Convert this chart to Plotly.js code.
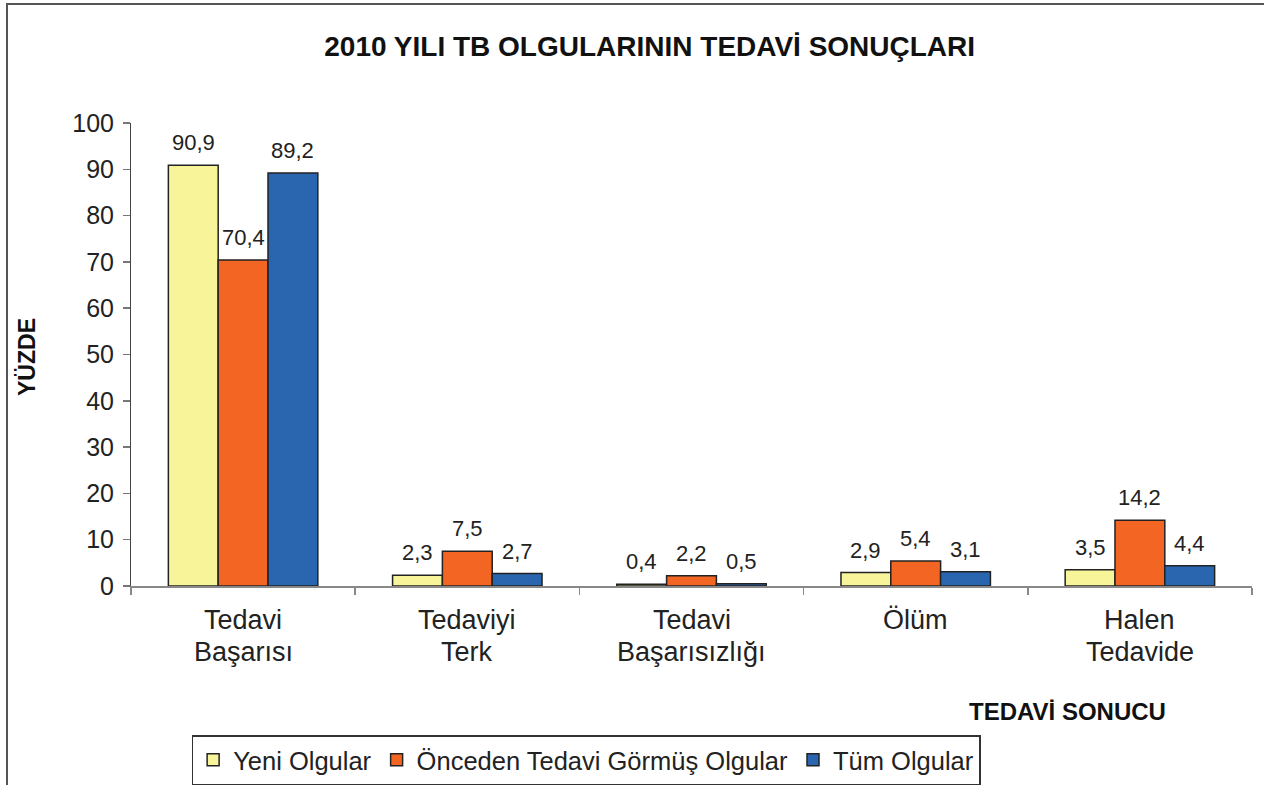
<!DOCTYPE html>
<html><head><meta charset="utf-8">
<script src="https://cdn.plot.ly/plotly-3.0.1.min.js"></script>
<style>
html,body{margin:0;padding:0;background:#fff;overflow:hidden;}
#chart{position:absolute;left:0;top:0;width:1264px;height:785px;}
#frame{position:absolute;left:6px;top:3px;width:1400px;height:900px;border-left:2px solid #555;border-top:2px solid #555;pointer-events:none;}
</style></head>
<body>
<div id="chart"></div>
<div id="frame"></div>
<script>
const categories = ["Tedavi Başarısı","Tedaviyi Terk","Tedavi Başarısızlığı","Ölüm","Halen Tedavide"];
const labelLine1 = ["Tedavi","Tedaviyi","Tedavi","Ölüm","Halen"];
const labelLine2 = ["Başarısı","Terk","Başarısızlığı","","Tedavide"];
const seriesNames = ["Yeni Olgular","Önceden Tedavi Görmüş Olgular","Tüm Olgular"];
const yeniOlgular = [90.9, 2.3, 0.4, 2.9, 3.5];
const oncedenOlgular = [70.4, 7.5, 2.2, 5.4, 14.2];
const tumOlgular = [89.2, 2.7, 0.5, 3.1, 4.4];
const yTicks = [0,10,20,30,40,50,60,70,80,90,100];

const seriesValues = [yeniOlgular, oncedenOlgular, tumOlgular];
const colors = ["#F7F49A","#F26522","#2A66B0"];
const fmt = v => v.toFixed(1).replace('.', ',');
const txtColor = "#222";
const fontFam = "Liberation Sans, Arial, sans-serif";

const traces = seriesValues.map((vals, i) => ({
  type: 'bar',
  name: seriesNames[i],
  x: categories,
  y: vals,
  marker: {color: colors[i], line: {color: '#222', width: 1.5}},
  hoverinfo: 'x+y'
}));

const bargap = 1/3;
const barW = (1 - bargap) / seriesValues.length;
const annotations = [];
seriesValues.forEach((vals, s) => {
  vals.forEach((v, c) => {
    annotations.push({
      x: c + (s - 1) * barW, y: v, xref: 'x', yref: 'y',
      text: fmt(v), showarrow: false, yanchor: 'bottom', yshift: 8,
      font: {size: 22, color: txtColor, family: fontFam}
    });
  });
});
labelLine1.forEach((t, c) => {
  annotations.push({x: c, y: -0.074, xref: 'x', yref: 'paper', text: t, showarrow: false,
    yanchor: 'middle', font: {size: 27, color: txtColor, family: fontFam}});
  if (labelLine2[c]) annotations.push({x: c, y: -0.1425, xref: 'x', yref: 'paper', text: labelLine2[c], showarrow: false,
    yanchor: 'middle', font: {size: 27, color: txtColor, family: fontFam}});
});
annotations.push({x: 0.925, y: -0.272, xref: 'paper', yref: 'paper', text: 'TEDAVİ SONUCU', showarrow: false,
  xanchor: 'right', yanchor: 'middle', font: {size: 24, color: '#111', family: fontFam, weight: 'bold'}});
annotations.push({x: -0.0928, y: 0.4946, xref: 'paper', yref: 'paper', text: 'YÜZDE', showarrow: false, textangle: -90,
  xanchor: 'center', yanchor: 'middle', font: {size: 23, color: '#111', family: fontFam, weight: 'bold'}});

const layout = {
  width: 1264, height: 785,
  margin: {l: 131, r: 12, t: 123, b: 199, autoexpand: false},
  paper_bgcolor: '#fff', plot_bgcolor: '#fff',
  title: {text: '2010 YILI TB OLGULARININ TEDAVİ SONUÇLARI', x: 0.514, xref: 'container', y: 0.941, yref: 'container',
    xanchor: 'center', yanchor: 'middle', automargin: false,
    font: {size: 28, color: '#111', family: fontFam, weight: 'bold'}},
  barmode: 'group', bargap: bargap, bargroupgap: 0,
  showlegend: true,
  legend: {orientation: 'h', x: 0.406, xanchor: 'center', y: -0.376, yanchor: 'middle',
    bgcolor: '#fff', bordercolor: '#333', borderwidth: 1.5,
    font: {size: 25.5, color: txtColor, family: fontFam}, traceorder: 'normal'},
  xaxis: {type: 'category', showticklabels: false, showline: true, linecolor: '#888', linewidth: 2,
    ticks: 'outside', tickson: 'boundaries', ticklen: 7, tickcolor: '#888', tickwidth: 1.5,
    showgrid: false, zeroline: false, fixedrange: true, automargin: false},
  yaxis: {range: [0, 100], tickvals: yTicks, ticktext: yTicks.map(String), showline: true, linecolor: '#444', linewidth: 1,
    ticks: 'outside', ticklen: 7, tickcolor: '#777', tickwidth: 1.5, ticklabelstandoff: 4,
    showgrid: false, zeroline: false, tickfont: {size: 25, color: txtColor, family: fontFam}, fixedrange: true, automargin: false},
  annotations: annotations
};

Plotly.newPlot('chart', traces, layout, {displayModeBar: false, staticPlot: true});
</script>
</body></html>
